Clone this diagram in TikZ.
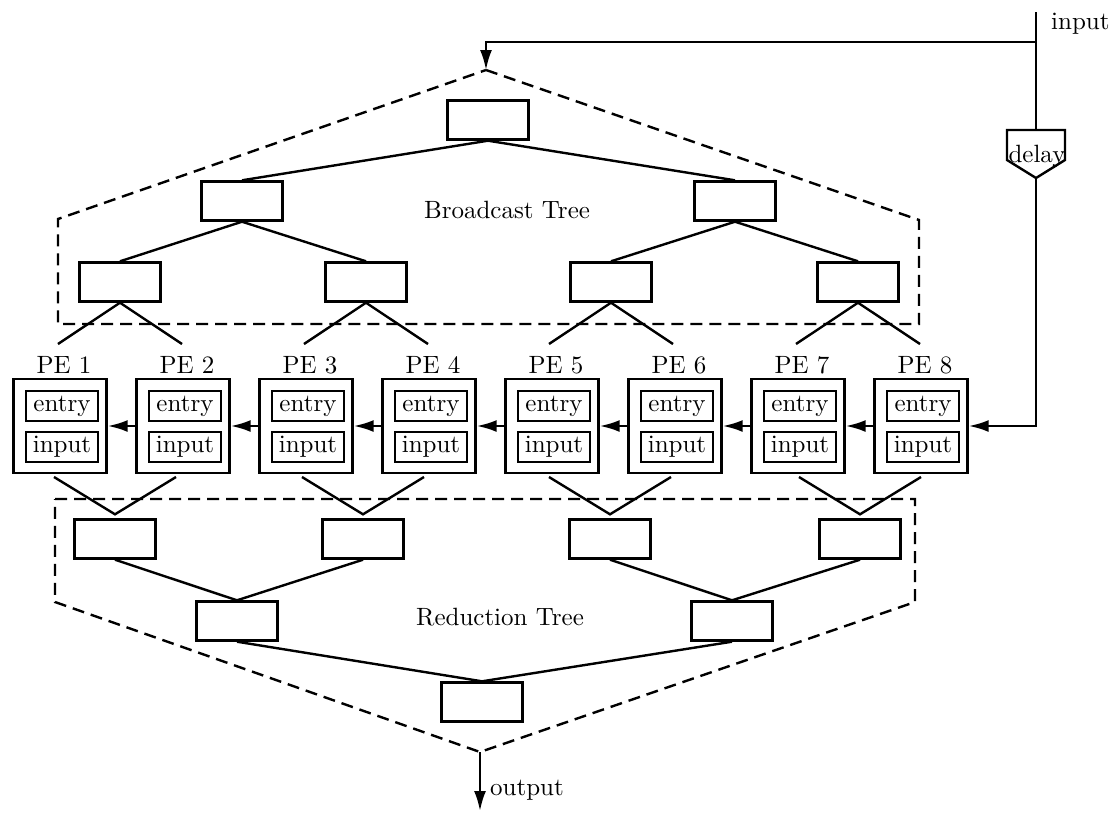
\documentclass[tikz,border=0pt]{standalone}
\usetikzlibrary{arrows.meta,calc}
% text is set at the 10pt design size and enlarged
\newcommand{\sctext}[1]{\scalebox{2.5}{\fontsize{10}{12}\selectfont #1}}
\tikzset{
  lbl/.style={inner sep=0pt},
  treebox/.style={draw, line width=2.4pt, minimum width=81pt, minimum height=39pt, inner sep=0pt},
  pebox/.style={draw, line width=2.4pt, minimum width=93pt, minimum height=94pt, inner sep=0pt},
  cell/.style={draw, line width=2.2pt, minimum width=72pt, minimum height=30pt, inner sep=0pt},
  wire/.style={line width=2.4pt},
  arr/.style={line width=2.4pt, -{Latex[length=20pt,width=12pt]}},
  hull/.style={line width=2.4pt, dash pattern=on 12pt off 7pt, line join=miter},
}
\begin{document}
\begin{tikzpicture}[x=1pt,y=-1pt]
\useasboundingbox (0,0) rectangle (1118,812);

% processing elements with their two registers
\foreach \i in {1,...,8} {
  \pgfmathsetmacro\px{60+123*(\i-1)}
  \node[pebox] (pe\i) at (\px,426) {};
  \node[lbl, anchor=base] (pl\i) at (\px+4,373) {\sctext{PE \i}};
  \node[cell] (en\i) at (\px+2,406) {\sctext{entry}};
  \node[cell] (ip\i) at (\px+2,447) {\sctext{input}};
}
% systolic shift to the left
\foreach \i [evaluate=\i as \j using int(\i+1)] in {1,...,7}
  \draw[arr] (pe\j.west) -- (pe\i.east);

% broadcast tree
\node[treebox] (b0) at (488,120) {};
\node[treebox] (b1) at (242,201) {};
\node[treebox] (b2) at (735,201) {};
\node[treebox] (c1) at (120,282) {};
\node[treebox] (c2) at (366,282) {};
\node[treebox] (c3) at (611,282) {};
\node[treebox] (c4) at (858,282) {};
\draw[wire] (b1.north) -- (b0.south) -- (b2.north);
\draw[wire] (c1.north) -- (b1.south) -- (c2.north);
\draw[wire] (c3.north) -- (b2.south) -- (c4.north);
\foreach \k/\cx in {1/120,2/366,3/611,4/858} {
  \coordinate (bl\k) at (\cx-62,344);
  \coordinate (br\k) at (\cx+62,344);
  \draw[wire] (bl\k) -- (c\k.south) -- (br\k);
}

% reduction tree
\foreach \k/\rx in {1/115,2/363,3/610,4/860} {
  \node[treebox] (r\k) at (\rx,539) {};
  \coordinate (ul\k) at (\rx-61,477);
  \coordinate (ur\k) at (\rx+61,477);
  \draw[wire] (ul\k) -- ($(r\k.north)+(0,-4)$) -- (ur\k);
}
\node[treebox] (s1) at (237,621) {};
\node[treebox] (s2) at (732,621) {};
\node[treebox] (t0) at (482,702) {};
\draw[wire] (r1.south) -- (s1.north) -- (r2.south);
\draw[wire] (r3.south) -- (s2.north) -- (r4.south);
\draw[wire] (s1.south) -- (t0.north) -- (s2.south);

% dashed outlines of the two trees
\coordinate (bapex) at (486,70);
\coordinate (rapex) at (480,752);
\draw[hull] (bapex) -- (919,220) -- (919,324) -- (58,324) -- (58,219) -- cycle;
\draw[hull] (55,499) -- (915,499) -- (915,602) -- (rapex) -- (55,602) -- cycle;
\node[lbl, anchor=base] (btree) at (507,218) {\sctext{Broadcast Tree}};
\node[lbl, anchor=base] (rtree) at (500,625) {\sctext{Reduction Tree}};

% input feed and delay line
\coordinate (itop) at (1036,12);
\coordinate (isplit) at (1036,42);
\coordinate (iturn) at (486,42);
\node[lbl, anchor=base west] (ilbl) at (1051,29) {\sctext{input}};
\draw[arr] (isplit) -- (iturn) -- (bapex);
\coordinate (dtop) at (1036,130);
\coordinate (dtip) at (1036,178);
\draw[wire] (itop) -- (dtop);
\draw[wire, line join=miter] (dtop) -- ++(-29,0) -- ++(0,30) -- (dtip) -- ++(29,-18) -- ++(0,-30) -- cycle;
\node[lbl, anchor=base] (dly) at (1037,162) {\sctext{delay}};
\draw[arr] (dtip) -- (dtip |- pe8.east) -- (pe8.east);

% result
\coordinate (oend) at (480,811);
\draw[arr] (rapex) -- (oend);
\node[lbl, anchor=base west] (olbl) at (490,795) {\sctext{output}};
\end{tikzpicture}
\end{document}
